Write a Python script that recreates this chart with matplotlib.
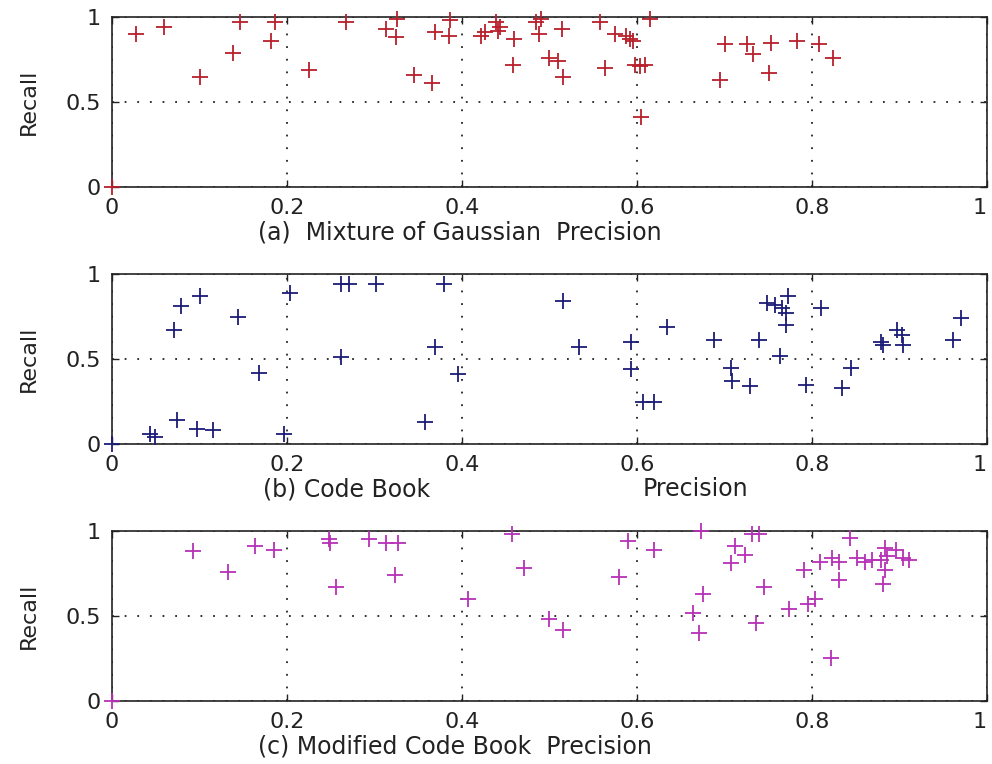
import numpy as np
import matplotlib
matplotlib.use('Agg')
import matplotlib.pyplot as plt

plt.rcParams['font.family'] = ['DejaVu Sans']

# (a) Mixture of Gaussian
mog_precision = [0.0, 0.027, 0.059, 0.101, 0.138, 0.146, 0.182, 0.186, 0.225, 0.267,
                 0.313, 0.326, 0.325, 0.345, 0.366, 0.369, 0.385, 0.386, 0.422, 0.426,
                 0.439, 0.443, 0.441, 0.460, 0.458, 0.485, 0.490, 0.488, 0.514, 0.500,
                 0.510, 0.516, 0.558, 0.563, 0.575, 0.588, 0.592, 0.596, 0.598, 0.603,
                 0.609, 0.615, 0.605, 0.701, 0.726, 0.733, 0.753, 0.751, 0.695, 0.783,
                 0.808, 0.824]
mog_recall = [0.0, 0.90, 0.94, 0.65, 0.79, 0.97, 0.86, 0.97, 0.69, 0.97,
              0.93, 0.99, 0.88, 0.66, 0.61, 0.91, 0.89, 0.98, 0.89, 0.91,
              0.97, 0.94, 0.92, 0.87, 0.72, 0.97, 0.99, 0.90, 0.93, 0.76,
              0.74, 0.65, 0.97, 0.70, 0.90, 0.89, 0.87, 0.86, 0.72, 0.71,
              0.72, 0.99, 0.41, 0.84, 0.84, 0.78, 0.85, 0.67, 0.63, 0.86,
              0.84, 0.76]

# (b) Code Book
cb_precision = [0.0, 0.043, 0.049, 0.074, 0.071, 0.079, 0.101, 0.097, 0.115, 0.144,
                0.168, 0.197, 0.204, 0.262, 0.271, 0.302, 0.262, 0.369, 0.379, 0.358,
                0.396, 0.515, 0.534, 0.593, 0.593, 0.607, 0.620, 0.634, 0.688, 0.707,
                0.709, 0.729, 0.739, 0.749, 0.758, 0.766, 0.773, 0.770, 0.770, 0.763,
                0.793, 0.810, 0.834, 0.845, 0.879, 0.881, 0.897, 0.903, 0.904, 0.961,
                0.970]
cb_recall = [0.0, 0.06, 0.04, 0.14, 0.67, 0.81, 0.87, 0.09, 0.08, 0.75,
             0.42, 0.06, 0.89, 0.94, 0.94, 0.94, 0.51, 0.57, 0.94, 0.13,
             0.41, 0.84, 0.57, 0.60, 0.44, 0.25, 0.25, 0.69, 0.61, 0.45,
             0.37, 0.34, 0.61, 0.83, 0.82, 0.80, 0.87, 0.77, 0.70, 0.52,
             0.35, 0.80, 0.33, 0.45, 0.60, 0.58, 0.67, 0.64, 0.58, 0.61,
             0.74]

# (c) Modified Code Book
mcb_precision = [0.0, 0.093, 0.133, 0.163, 0.185, 0.248, 0.249, 0.256, 0.294, 0.313,
                 0.327, 0.323, 0.407, 0.457, 0.471, 0.500, 0.515, 0.579, 0.590, 0.620,
                 0.673, 0.664, 0.675, 0.671, 0.707, 0.712, 0.724, 0.732, 0.739, 0.736,
                 0.745, 0.774, 0.791, 0.795, 0.804, 0.809, 0.822, 0.823, 0.831, 0.831,
                 0.844, 0.852, 0.861, 0.869, 0.879, 0.884, 0.896, 0.883, 0.881, 0.886,
                 0.904, 0.911]
mcb_recall = [0.0, 0.88, 0.76, 0.91, 0.89, 0.95, 0.93, 0.67, 0.95, 0.93,
              0.93, 0.74, 0.60, 0.98, 0.78, 0.48, 0.42, 0.73, 0.94, 0.89,
              1.00, 0.52, 0.63, 0.40, 0.81, 0.91, 0.86, 0.98, 0.98, 0.46,
              0.67, 0.54, 0.77, 0.57, 0.60, 0.82, 0.25, 0.84, 0.82, 0.71,
              0.96, 0.84, 0.82, 0.83, 0.83, 0.90, 0.89, 0.77, 0.69, 0.85,
              0.84, 0.83]

x_ticks = [0, 0.2, 0.4, 0.6, 0.8, 1]
x_tick_labels = ['0', '0.2', '0.4', '0.6', '0.8', '1']
y_ticks = [0, 0.5, 1]
y_tick_labels = ['0', '0.5', '1']

panels = [
    (mog_precision, mog_recall, '#b8202c', '(a)  Mixture of Gaussian  Precision', None),
    (cb_precision, cb_recall, '#1c1c78', '(b) Code Book', 'Precision'),
    (mcb_precision, mcb_recall, '#b830b8', '(c) Modified Code Book  Precision', None),
]

fig = plt.figure(figsize=(9.92, 7.64), dpi=100)
bottoms = [0.7552, 0.4188, 0.0825]
ink = '#222222'

for (x, y, color, label, label2), b in zip(panels, bottoms):
    ax = fig.add_axes([0.1129, b, 0.882, 0.2225])
    ax.plot(x, y, linestyle='none', marker='+', markersize=12, markeredgewidth=1.3,
            color=color, clip_on=False, zorder=3)
    ax.set_xlim(0, 1)
    ax.set_ylim(0, 1)
    ax.set_xticks(x_ticks)
    ax.set_xticklabels(x_tick_labels)
    ax.set_yticks(y_ticks)
    ax.set_yticklabels(y_tick_labels)
    ax.tick_params(direction='in', length=5, width=1, top=True, right=True,
                   labelsize=16, colors=ink, pad=8)
    # keep the "1" at the right edge inside the figure
    ax.get_xticklabels()[-1].set_ha('right')
    ax.grid(True, linestyle=(0, (1, 6)), color=ink, linewidth=1.3)
    for s in ax.spines.values():
        s.set_linewidth(1.2)
        s.set_color(ink)
    ax.set_ylabel('Recall', fontsize=16, color=ink, labelpad=19)
    # panel captions sit under the tick labels
    if label2 is None:
        ax.text(0.167, -0.265, label, transform=ax.transAxes, ha='left', va='center',
                fontsize=17, color=ink)
    else:
        ax.text(0.1726, -0.265, label, transform=ax.transAxes, ha='left', va='center',
                fontsize=17, color=ink)
        ax.text(0.606, -0.265, label2, transform=ax.transAxes, ha='left', va='center',
                fontsize=17, color=ink)

fig.savefig('out.png', dpi=100)
